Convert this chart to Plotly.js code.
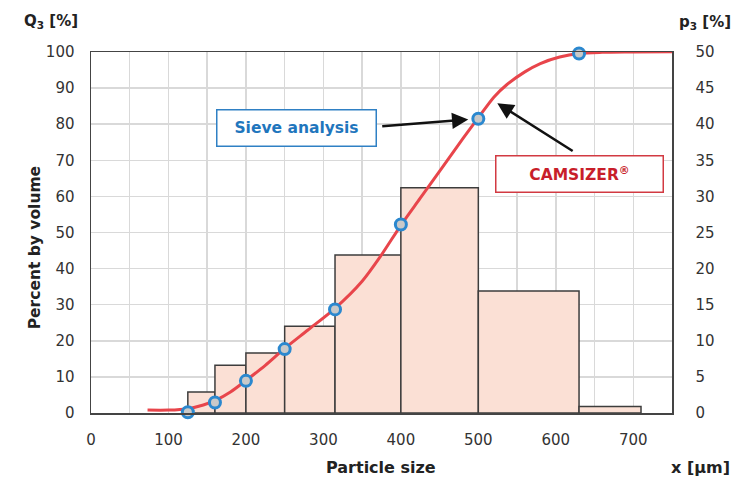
<!DOCTYPE html>
<html><head><meta charset="utf-8">
<script src="https://cdn.plot.ly/plotly-3.0.1.min.js"></script>
<style>html,body{margin:0;padding:0;background:#fff}#chart{width:742px;height:479px}</style>
</head><body><div id="chart"></div>
<script>
// Histogram (p3, right axis): sieve class edges in µm and density values
var binEdges = [125, 160, 200, 250, 315, 400, 500, 630, 710];
var p3Values = [2.9, 6.6, 8.3, 12.0, 21.9, 31.2, 16.9, 0.9];
// Sieve analysis points (Q3, left axis)
var sieveSizes = [125, 160, 200, 250, 315, 400, 500, 630];
var sieveQ3 = [0.2, 2.9, 8.9, 17.7, 28.7, 52.2, 81.5, 99.6];
// CAMSIZER cumulative curve (Q3)
var camSizes = [73, 100, 125, 145, 160, 180, 200, 225, 250, 280, 315, 350, 374, 400, 425, 451, 480, 500, 520, 537, 560, 580, 605, 630, 660, 700, 750];
var camQ3 =    [0.8, 0.8, 1.2, 2.2, 3.4, 5.8, 9.0, 13.2, 17.9, 23.0, 29.0, 36.5, 43.5, 52.0, 59.5, 67.3, 76.0, 81.8, 87.5, 91.0, 94.5, 96.8, 98.6, 99.6, 99.9, 100.0, 100.1];
var xTicks = [0, 100, 200, 300, 400, 500, 600, 700];

var centers = [], widths = [];
for (var i = 0; i < p3Values.length; i++) {
  centers.push((binEdges[i] + binEdges[i+1]) / 2);
  widths.push(binEdges[i+1] - binEdges[i]);
}

var FONT = 'DejaVu Sans, sans-serif';
var traces = [
  {type:'bar', x:centers, y:p3Values, width:widths, yaxis:'y',
   marker:{color:'#fbe0d5', line:{color:'#3d3d3d', width:1.5}}, hoverinfo:'none'},
  {type:'scatter', mode:'lines', x:camSizes, y:camQ3, yaxis:'y2',
   line:{color:'#e8454b', width:3, shape:'spline', smoothing:0.8}, hoverinfo:'none'},
  {type:'scatter', mode:'markers', x:sieveSizes, y:sieveQ3, yaxis:'y2', cliponaxis:false,
   marker:{size:11, color:'#c9c9c9', line:{color:'#2b88cf', width:3}}, hoverinfo:'none'}
];

var layout = {
  width:742, height:479,
  margin:{l:91, r:70, t:52, b:66},
  paper_bgcolor:'#fff', plot_bgcolor:'#fff',
  showlegend:false, bargap:0,
  font:{family:FONT, size:15, color:'#333'},
  xaxis:{range:[0,750], tickvals:xTicks, showgrid:true, gridcolor:'#d9d9d9', gridwidth:1.5,
    minor:{dtick:50, showgrid:true, gridcolor:'#d9d9d9', gridwidth:1.5},
    showline:true, linecolor:'#444', linewidth:1.5, mirror:true, ticks:'', zeroline:false,
    ticklabelstandoff:12, tickfont:{size:15, color:'#333'}},
  yaxis:{range:[0,50], dtick:5, side:'right', showgrid:true, gridcolor:'#d9d9d9', gridwidth:1.5,
    showline:true, linecolor:'#444', linewidth:1.5, ticks:'', zeroline:false,
    ticklabelstandoff:19, tickfont:{size:15, color:'#333'}},
  yaxis2:{range:[0,100], dtick:10, side:'left', overlaying:'y', showgrid:false,
    showline:true, linecolor:'#444', linewidth:1.5, ticks:'', zeroline:false,
    ticklabelstandoff:12, tickfont:{size:15, color:'#333'}},
  annotations:[
    {xref:'paper', yref:'paper', x:-0.069, y:1.085, xanchor:'center', yanchor:'middle', showarrow:false,
     text:'<b>Q<sub>3</sub> [%]</b>', font:{size:15, color:'#222'}},
    {xref:'paper', yref:'paper', x:1.057, y:1.082, xanchor:'center', yanchor:'middle', showarrow:false,
     text:'<b>p<sub>3</sub> [%]</b>', font:{size:15, color:'#222'}},
    {xref:'paper', yref:'paper', x:-0.0964, y:0.459, xanchor:'center', yanchor:'middle', showarrow:false,
     textangle:-90, text:'<b>Percent by volume</b>', font:{size:15.5, color:'#222'}},
    {xref:'paper', yref:'paper', x:0.499, y:-0.152, xanchor:'center', yanchor:'middle', showarrow:false,
     text:'<b>Particle size</b>', font:{size:16, color:'#222'}},
    {xref:'paper', yref:'paper', x:1.0499, y:-0.152, xanchor:'center', yanchor:'middle', showarrow:false,
     text:'<b>x [µm]</b>', font:{size:16, color:'#222'}},
    // arrows
    {xref:'x', yref:'y2', axref:'x', ayref:'y2', x:487, y:81.3, ax:374, ay:79.4, text:'',
     showarrow:true, arrowhead:2, arrowsize:1.3, arrowwidth:2.5, arrowcolor:'#111'},
    {xref:'x', yref:'y2', axref:'x', ayref:'y2', x:524.5, y:85.8, ax:623.7, ay:72.3, text:'',
     showarrow:true, arrowhead:2, arrowsize:1.3, arrowwidth:2.5, arrowcolor:'#111'},
    // labelled boxes
    {xref:'x', yref:'y2', x:265.5, y:78.9, xanchor:'center', yanchor:'middle', showarrow:false,
     text:'<b>Sieve analysis</b>', font:{size:15.5, color:'#1f76bd'},
     width:156, height:33, borderpad:1, bordercolor:'#2f80c4', borderwidth:1.5, bgcolor:'#fff'},
    {xref:'x', yref:'y2', x:630, y:66.3, xanchor:'center', yanchor:'middle', showarrow:false,
     text:'<b>CAMSIZER<sup>®</sup></b>', font:{size:15.5, color:'#c81e2a'},
     width:164, height:33, borderpad:1, bordercolor:'#d23a42', borderwidth:1.5, bgcolor:'#fff'}
  ]
};
Plotly.newPlot('chart', traces, layout, {displayModeBar:false, staticPlot:true});
</script></body></html>
